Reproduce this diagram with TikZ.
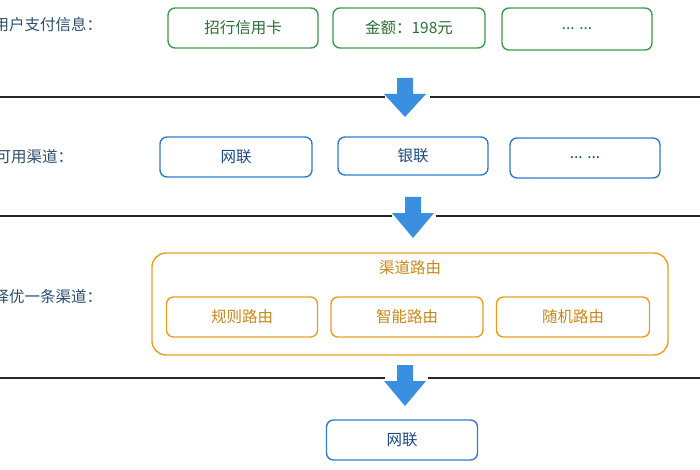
\documentclass[tikz,border=0pt]{standalone}
\usepackage{fontspec}
\newfontfamily\cjk{Noto Sans CJK SC}
\begin{document}
\begin{tikzpicture}[x=1pt,y=-1pt,font=\cjk\fontsize{15.5}{18}\selectfont,
 gbox/.style={draw=gr,line width=1.4pt,rounded corners=7pt,text=gr!70!black},
 bbox/.style={draw=bl,line width=1.4pt,rounded corners=7pt,text=bl!60!black},
 obox/.style={draw=og,line width=1.4pt,rounded corners=7pt,text=og!85!black},
 lbl/.style={anchor=west,text=lb},
 sep/.style={line width=1.6pt,black!85}]
\definecolor{gr}{HTML}{3E9A4E}\definecolor{bl}{HTML}{2F7BD0}
\definecolor{og}{HTML}{E8A020}\definecolor{lb}{HTML}{2E4E6E}\definecolor{ar}{HTML}{3A8FE0}
\useasboundingbox (0,0) rectangle (700,470);
\newcommand{\barrow}[3]{\fill[ar] (#1-8,#2) -- (#1+8,#2) -- (#1+8,#2+16) -- (#1+21,#2+16) -- (#1,#3) -- (#1-21,#2+16) -- (#1-8,#2+16) -- cycle;}
\node[lbl] (l1) at (-10,25) {用户支付信息：};
\node[lbl] (l2) at (-8,157) {可用渠道：};
\node[lbl] (l3) at (-10,297) {择优一条渠道：};
\node[gbox,minimum width=150,minimum height=40] (g1) at (243,28) {招行信用卡};
\node[gbox,minimum width=152,minimum height=40] (g2) at (409,28) {金额：198元};
\node[gbox,minimum width=150,minimum height=42] (g3) at (577,29) {... ...};
\draw[sep] (0,97) -- (385,97); \draw[sep] (430,97) -- (700,97);
\barrow{405}{78}{117}
\node[bbox,minimum width=152,minimum height=40] (b1) at (236,157) {网联};
\node[bbox,minimum width=150,minimum height=38] (b2) at (413,156) {银联};
\node[bbox,minimum width=150,minimum height=40] (b3) at (585,158) {... ...};
\draw[sep] (0,216) -- (392,216); \draw[sep] (436,216) -- (700,216);
\barrow{413}{197}{238}
\draw[og,line width=1.4pt,rounded corners=14pt] (152,253) rectangle (668,355);
\node[text=og!85!black] (t) at (410,268) {渠道路由};
\node[obox,minimum width=151,minimum height=40] (o1) at (242,317) {规则路由};
\node[obox,minimum width=152,minimum height=40] (o2) at (407,317) {智能路由};
\node[obox,minimum width=153,minimum height=40] (o3) at (573,317) {随机路由};
\draw[sep] (0,378) -- (385,378); \draw[sep] (428,378) -- (700,378);
\barrow{405}{365}{406}
\node[bbox,minimum width=151,minimum height=40] (f) at (402,440) {网联};
\end{tikzpicture}
\end{document}
